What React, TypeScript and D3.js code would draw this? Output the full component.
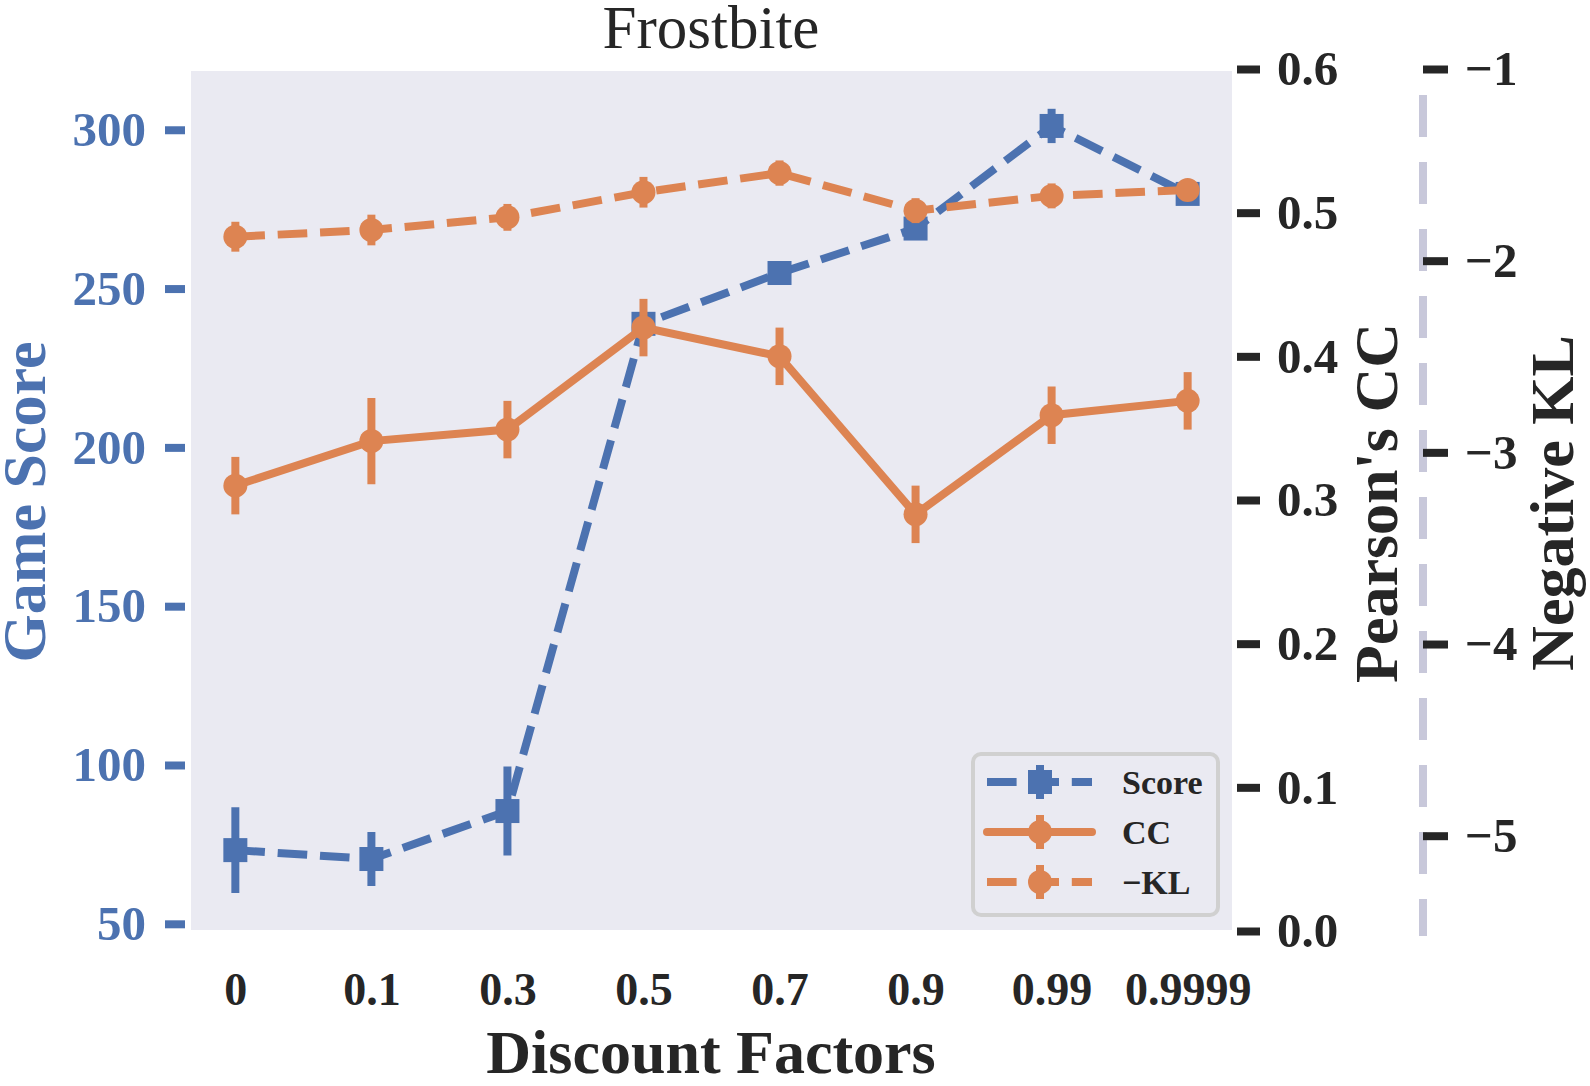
import { useEffect, useRef } from 'react';
import * as d3 from 'd3';

const factors = ['0', '0.1', '0.3', '0.5', '0.7', '0.9', '0.99', '0.9999'];

const scoreMean = [73.2, 70.4, 85.5, 238.9, 254.9, 268.9, 301.2, 279.8];
const scoreErr = [13.5, 8.5, 14, 2, 1.5, 1.5, 5.4, 1.5];

const ccMean = [0.310, 0.341, 0.349, 0.420, 0.400, 0.290, 0.359, 0.369];
const ccErr = [0.020, 0.030, 0.020, 0.020, 0.020, 0.020, 0.020, 0.020];

const klMean = [-1.875, -1.84, -1.774, -1.643, -1.543, -1.739, -1.662, -1.631];
const klErr = [0.078, 0.08, 0.07, 0.08, 0.066, 0.065, 0.065, 0.05];

const scoreTicks = [50, 100, 150, 200, 250, 300];
const ccTicks = [0, 0.1, 0.2, 0.3, 0.4, 0.5, 0.6];
const klTicks = [-1, -2, -3, -4, -5];

const WIDTH = 1590;
const HEIGHT = 1086;
const plot = { left: 191, right: 1232, top: 71, bottom: 930 };

const BLUE = '#4C72B0';
const ORANGE = '#DD8452';
const DARK = '#262626';
const FONT = '"Liberation Serif", "Times New Roman", serif';
const LW = 8;
const DASH = '29.6 12.8';

export default function App() {
  const svgRef = useRef<SVGSVGElement | null>(null);

  useEffect(() => {
    const svg = d3.select(svgRef.current);
    svg.selectAll('*').remove();
    svg.attr('width', WIDTH).attr('height', HEIGHT);

    const x = d3.scalePoint<string>()
      .domain(factors)
      .range([plot.left, plot.right])
      .padding(0.326);

    const yScore = d3.scaleLinear().domain([48.05, 318.5]).range([plot.bottom, plot.top]);
    const yCC = d3.scaleLinear().domain([0, 0.6]).range([931, 69]);
    const yKL = d3.scaleLinear().domain([-5, -1]).range([835.7, 69]);

    svg.append('rect')
      .attr('x', plot.left)
      .attr('y', plot.top)
      .attr('width', plot.right - plot.left)
      .attr('height', plot.bottom - plot.top)
      .attr('fill', '#EAEAF2');

    // axes
    const styleAxis = (
      g: d3.Selection<SVGGElement, unknown, null, undefined>,
      color: string
    ) => {
      g.select('.domain').remove();
      g.selectAll('.tick line').attr('stroke', color).attr('stroke-width', LW);
      g.selectAll('.tick text')
        .attr('fill', color)
        .style('font-family', FONT)
        .style('font-size', '49px')
        .style('font-weight', 'bold');
    };

    const gLeft = svg.append('g')
      .attr('transform', 'translate(185,0)')
      .call(d3.axisLeft(yScore).tickValues(scoreTicks).tickSize(20).tickPadding(19).tickFormat(d3.format('d')));
    styleAxis(gLeft, BLUE);

    const gCC = svg.append('g')
      .attr('transform', 'translate(1237,0)')
      .call(d3.axisRight(yCC).tickValues(ccTicks).tickSize(23).tickPadding(17).tickFormat(d3.format('.1f')));
    styleAxis(gCC, DARK);

    // dashed spine of the negative KL axis
    svg.append('line')
      .attr('x1', 1423).attr('x2', 1423)
      .attr('y1', plot.top).attr('y2', 936)
      .attr('stroke', '#C8C8DA')
      .attr('stroke-width', LW)
      .attr('stroke-dasharray', '42 25')
      .attr('stroke-dashoffset', 43);

    const gKL = svg.append('g')
      .attr('transform', 'translate(1423,0)')
      .call(d3.axisRight(yKL).tickValues(klTicks).tickSize(25).tickPadding(17)
        .tickFormat(d => `\u2212${Math.abs(+d)}`));
    styleAxis(gKL, DARK);

    const gX = svg.append('g')
      .attr('transform', `translate(0,${plot.bottom})`)
      .call(d3.axisBottom(x).tickSize(0).tickPadding(42));
    gX.select('.domain').remove();
    gX.selectAll('.tick text')
      .attr('fill', DARK)
      .style('font-family', FONT)
      .style('font-size', '46px')
      .style('font-weight', 'bold');

    // series
    const drawSeries = (
      mean: number[],
      err: number[],
      y: d3.ScaleLinear<number, number>,
      color: string,
      dashed: boolean,
      marker: 'square' | 'circle'
    ) => {
      const g = svg.append('g');
      const line = d3.line<number>()
        .x((_, i) => x(factors[i])!)
        .y(d => y(d));

      g.append('path')
        .attr('d', line(mean))
        .attr('fill', 'none')
        .attr('stroke', color)
        .attr('stroke-width', LW)
        .attr('stroke-dasharray', dashed ? DASH : null);

      g.selectAll('line.err')
        .data(mean)
        .enter()
        .append('line')
        .attr('class', 'err')
        .attr('x1', (_, i) => x(factors[i])!)
        .attr('x2', (_, i) => x(factors[i])!)
        .attr('y1', (d, i) => y(d - err[i]))
        .attr('y2', (d, i) => y(d + err[i]))
        .attr('stroke', color)
        .attr('stroke-width', LW);

      if (marker === 'square') {
        g.selectAll('rect.mk')
          .data(mean)
          .enter()
          .append('rect')
          .attr('class', 'mk')
          .attr('x', (_, i) => x(factors[i])! - 12)
          .attr('y', d => y(d) - 12)
          .attr('width', 24)
          .attr('height', 24)
          .attr('fill', color);
      } else {
        g.selectAll('circle.mk')
          .data(mean)
          .enter()
          .append('circle')
          .attr('class', 'mk')
          .attr('cx', (_, i) => x(factors[i])!)
          .attr('cy', d => y(d))
          .attr('r', 12)
          .attr('fill', color);
      }
    };

    drawSeries(scoreMean, scoreErr, yScore, BLUE, true, 'square');
    drawSeries(ccMean, ccErr, yCC, ORANGE, false, 'circle');
    drawSeries(klMean, klErr, yKL, ORANGE, true, 'circle');

    // legend
    const legend = svg.append('g');
    legend.append('rect')
      .attr('x', 973).attr('y', 754)
      .attr('width', 245).attr('height', 161)
      .attr('rx', 8)
      .attr('fill', '#EAEAF2')
      .attr('stroke', '#D0D0D0')
      .attr('stroke-width', 4);

    const entries = [
      { label: 'Score', color: BLUE, dashed: true, marker: 'square' },
      { label: 'CC', color: ORANGE, dashed: false, marker: 'circle' },
      { label: '\u2212KL', color: ORANGE, dashed: true, marker: 'circle' },
    ];
    entries.forEach((e, i) => {
      const cy = 782 + i * 50;
      const row = legend.append('g');
      row.append('line')
        .attr('x1', 987).attr('x2', 1092)
        .attr('y1', cy).attr('y2', cy)
        .attr('stroke', e.color)
        .attr('stroke-width', LW)
        .attr('stroke-linecap', e.dashed ? 'butt' : 'round')
        .attr('stroke-dasharray', e.dashed ? DASH : null);
      row.append('line')
        .attr('x1', 1040).attr('x2', 1040)
        .attr('y1', cy - 17).attr('y2', cy + 17)
        .attr('stroke', e.color)
        .attr('stroke-width', LW);
      if (e.marker === 'square') {
        row.append('rect')
          .attr('x', 1028).attr('y', cy - 12)
          .attr('width', 24).attr('height', 24)
          .attr('fill', e.color);
      } else {
        row.append('circle')
          .attr('cx', 1040).attr('cy', cy)
          .attr('r', 12)
          .attr('fill', e.color);
      }
      row.append('text')
        .attr('x', 1122).attr('y', cy)
        .attr('dy', '0.35em')
        .attr('fill', DARK)
        .style('font-family', FONT)
        .style('font-size', '34px')
        .style('font-weight', 'bold')
        .text(e.label);
    });

    // titles
    svg.append('text')
      .attr('x', 711).attr('y', 48)
      .attr('text-anchor', 'middle')
      .attr('fill', DARK)
      .style('font-family', FONT)
      .style('font-size', '61px')
      .text('Frostbite');

    svg.append('text')
      .attr('x', 711).attr('y', 1073)
      .attr('text-anchor', 'middle')
      .attr('fill', DARK)
      .style('font-family', FONT)
      .style('font-size', '62px')
      .style('font-weight', 'bold')
      .text('Discount Factors');

    const vLabel = (text: string, cx: number, cy: number, color: string) => {
      svg.append('text')
        .attr('transform', `translate(${cx},${cy}) rotate(-90)`)
        .attr('text-anchor', 'middle')
        .attr('fill', color)
        .style('font-family', FONT)
        .style('font-size', '62px')
        .style('font-weight', 'bold')
        .text(text);
    };
    vLabel('Game Score', 45, 502, BLUE);
    vLabel("Pearson's CC", 1397, 503, DARK);
    vLabel('Negative KL', 1573, 503, DARK);
  }, []);

  return (
    <svg
      ref={svgRef}
      style={{ position: 'absolute', left: 0, top: 0, background: '#fff' }}
    />
  );
}
